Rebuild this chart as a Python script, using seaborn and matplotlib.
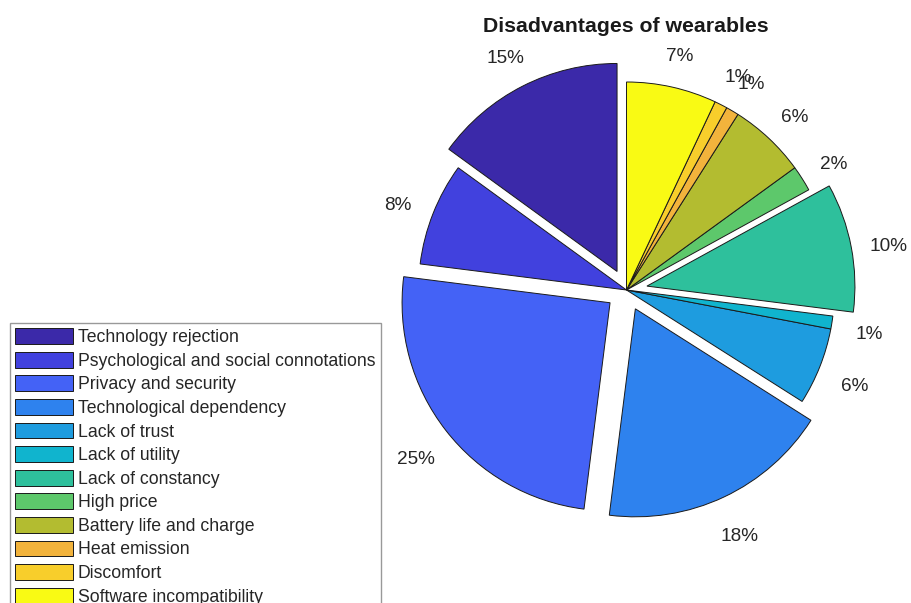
import matplotlib
matplotlib.use("Agg")
import matplotlib.pyplot as plt
from matplotlib.transforms import ScaledTranslation
import seaborn as sns

# Survey shares of reported disadvantages (percent)
categories = [
    "Technology rejection",
    "Psychological and social connotations",
    "Privacy and security",
    "Technological dependency",
    "Lack of trust",
    "Lack of utility",
    "Lack of constancy",
    "High price",
    "Battery life and charge",
    "Heat emission",
    "Discomfort",
    "Software incompatibility",
]
shares = [15, 8, 25, 18, 6, 1, 10, 2, 6, 1, 1, 7]

# Slices pulled out from the centre
pulled_out = [True, False, True, True, False, False, True, False, False, False, False, False]

# parula-like colour sequence
slice_colors = [
    "#3B29A9", "#4141DE", "#4462F6", "#2E82EE", "#1E9CDF", "#10B4CE",
    "#2EC09C", "#5DC86B", "#B3BC30", "#F2B33C", "#F8CE2B", "#F9FA14",
]

sns.set_theme(style="white")
plt.rcParams["font.family"] = ["Liberation Sans", "DejaVu Sans"]

palette = sns.color_palette(slice_colors)

W, H = 912, 603
fig = plt.figure(figsize=(W / 100, H / 100), dpi=100)

# Axes laid out so that one data unit (the pie radius) spans 208 px
R_PX = 208.0
cx, cy = 626.5, 290.0
half = 300.0
ax = fig.add_axes([(cx - half) / W, (H - cy - half) / H, 2 * half / W, 2 * half / H])

wedges, _, pct_texts = ax.pie(
    shares,
    explode=[0.1 if p else 0.0 for p in pulled_out],
    colors=palette,
    startangle=90,
    counterclock=True,
    radius=1.0,
    autopct=lambda p: f"{p:.0f}%",
    pctdistance=1.18,
    wedgeprops=dict(edgecolor="#1a1a1a", linewidth=0.7),
    textprops=dict(fontsize=13.7, color="#262626"),
)
# nudge percentage labels slightly downward
shift = ScaledTranslation(0, -6 / 100, fig.dpi_scale_trans)
for t in pct_texts:
    t.set_transform(t.get_transform() + shift)

lim = half / R_PX
ax.set_xlim(-lim, lim)
ax.set_ylim(-lim, lim)
ax.set_aspect("equal")
ax.axis("off")

fig.text(625.5 / W, 1 - 26 / H, "Disadvantages of wearables",
         ha="center", va="center", fontsize=15.3, fontweight="bold", color="#1a1a1a")

leg = fig.legend(
    wedges, categories,
    loc="upper left",
    bbox_to_anchor=(10 / W, 1 - 323 / H),
    borderaxespad=0.0,
    fontsize=12.7,
    frameon=True,
    fancybox=False,
    edgecolor="#808080",
    handlelength=3.25,
    handleheight=1.0,
    handletextpad=0.3,
    labelspacing=0.32,
    borderpad=0.3,
)
leg.get_frame().set_linewidth(1.0)
leg.get_frame().set_facecolor("white")

fig.savefig("out.png", dpi=100)
